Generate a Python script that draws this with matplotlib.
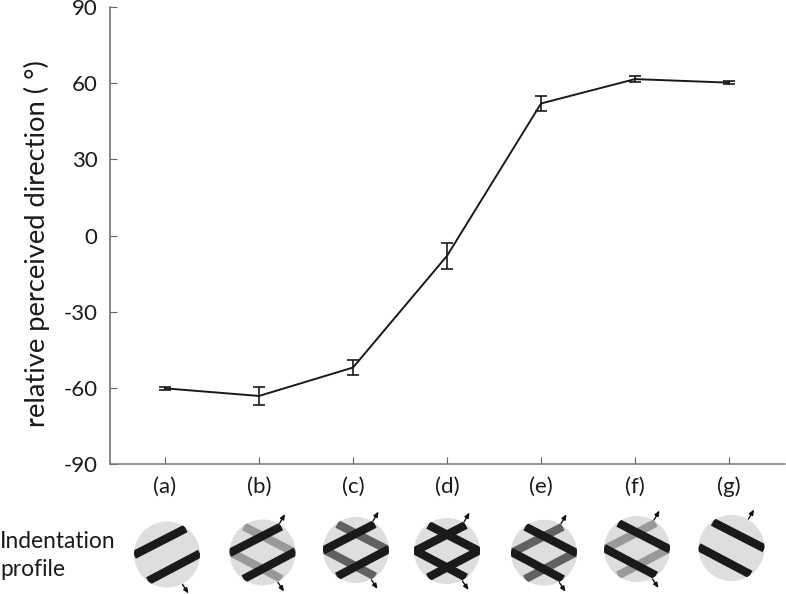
import numpy as np
import matplotlib
matplotlib.use('Agg')
import matplotlib.pyplot as plt
from matplotlib.patches import Circle

plt.rcParams['font.family'] = ['Lato', 'DejaVu Sans']

W, H = 786, 594

# curve
labels = ['(a)', '(b)', '(c)', '(d)', '(e)', '(f)', '(g)']
direction = [-60.2, -63.2, -52.0, -8.0, 52.0, 61.6, 60.2]
err = [0.6, 3.5, 3.0, 5.0, 2.8, 1.2, 0.6]
yticks = [-90, -60, -30, 0, 30, 60, 90]
ylabels = ['-90', '-60', '-30', '0', '30', '60', '90']

# indentation profiles, grey level of each grating (None = no grating)
rising_grey = [0.1, 0.1, 0.1, 0.1, 0.38, 0.6, None]
falling_grey = [None, 0.6, 0.38, 0.1, 0.1, 0.1, 0.1]
circle_x = [167, 262.5, 356, 447, 544, 637, 731.5]
circle_y = [554.5, 552.5, 550, 551, 552.7, 549, 548]

fig = plt.figure(figsize=(W / 100, H / 100), dpi=100)

ax = fig.add_axes([110 / W, 1 - 464 / H, (785 - 110) / W, (464 - 7) / H])
x = np.arange(1, 8)
ax.errorbar(x, direction, yerr=err, color='#1a1a1a', lw=1.4, capsize=4, capthick=1.2, elinewidth=1.2)
ax.set_xlim(0.415, 7.595)
ax.set_ylim(-90, 90)
ax.set_xticks(x)
ax.set_xticklabels(labels)
ax.set_yticks(yticks)
ax.set_yticklabels(ylabels)
ax.tick_params(direction='in', length=5, width=0.8, color='#666666', labelsize=16, labelcolor='#1a1a1a')
ax.tick_params(axis='y', pad=9)
ax.tick_params(axis='x', pad=9)
ax.spines['top'].set_visible(False)
ax.spines['right'].set_visible(False)
ax.spines['left'].set_color('#666666')
ax.spines['bottom'].set_color('#777777')
ax.spines['left'].set_linewidth(1.1)
ax.spines['bottom'].set_linewidth(1.1)
fig.text(37 / W, 1 - 244 / H, 'relative perceived direction ( °)', fontsize=19.7, color='#1a1a1a',
         rotation=90, ha='center', va='center')

# overlay in pixel coordinates for the stimulus icons
ov = fig.add_axes([0, 0, 1, 1])
ov.set_xlim(0, W)
ov.set_ylim(H, 0)
ov.axis('off')
ov.patch.set_alpha(0)

R = 33
for cx, cy, up, down in zip(circle_x, circle_y, rising_grey, falling_grey):
    disc = Circle((cx, cy), R, fc='#dedede', ec='none')
    ov.add_patch(disc)
    grat = []
    if up is not None:
        grat.append((up, [(-33, 0.5), (18.7, -26), (-19, 26.5), (33, -1)]))
    if down is not None:
        grat.append((down, [(-18.7, -26), (33, 0.5), (-33, -1), (19, 26.5)]))
    grat.sort(key=lambda g: -g[0])
    for grey, p in grat:
        for i in (0, 2):
            ln, = ov.plot([cx + p[i][0], cx + p[i + 1][0]], [cy + p[i][1], cy + p[i + 1][1]],
                          color=str(grey), lw=6, solid_capstyle='butt')
            ln.set_clip_path(disc)
    if down is not None:
        ov.annotate('', xy=(cx + 22.5, cy - 38.5), xytext=(cx + 17, cy - 29),
                    arrowprops=dict(arrowstyle='-|>,head_width=0.13,head_length=0.3', color='#111111', lw=1, shrinkA=0, shrinkB=0))
    if up is not None:
        ov.annotate('', xy=(cx + 21.5, cy + 39), xytext=(cx + 15.5, cy + 30),
                    arrowprops=dict(arrowstyle='-|>,head_width=0.13,head_length=0.3', color='#111111', lw=1, shrinkA=0, shrinkB=0))

ov.text(0, 541, 'Indentation', fontsize=16.4, va='center', ha='left', color='#1a1a1a')
ov.text(0, 569, 'profile', fontsize=16.4, va='center', ha='left', color='#1a1a1a')

fig.savefig('out.png', dpi=100)
